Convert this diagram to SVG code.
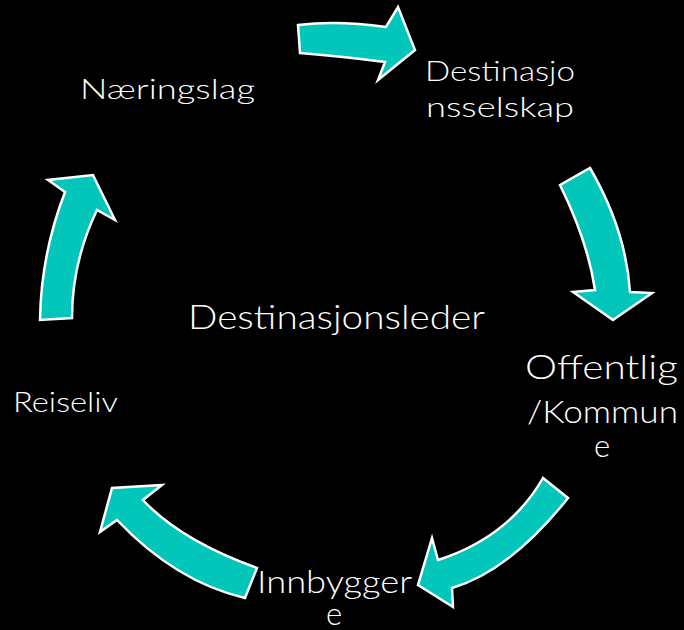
<svg xmlns="http://www.w3.org/2000/svg" width="684" height="630" viewBox="0 0 684 630">
<style>
.arr{fill:#02C6BA;stroke:#FFFFFF;stroke-width:2.5;stroke-linejoin:miter}
.t{fill:#FFFFFF;font-family:"Lato","DejaVu Sans","Liberation Sans",sans-serif;font-weight:300}
</style>
<rect width="684" height="630" fill="#000000"/>
<g id="connectors">
<path id="arrow-top" class="arr" d="M298,25 Q338,20 386,27 L398,7 L415,50 L378,80 L385,62 Q338,56 300,53 Z"/>
<path id="arrow-right" class="arr" d="M560,185 L590,168 Q626,230 630,292 L652,293 L613,320 L573,292 L595,290 Q588,242 560,185 Z"/>
<path id="arrow-bottomright" class="arr" d="M543,478 L568,498 Q510,571 452,588 L453,607 L418,585 L432,538 L438,560 Q509,537 543,478 Z"/>
<path id="arrow-bottomleft" class="arr" d="M257,568 Q180,540 143,500 L162,485 L112,488 L100,532 L117,520 Q176,582 245,598 Z"/>
<path id="arrow-left" class="arr" d="M40,320 Q41,254 65,192 L48,180 L93,175 L115,220 L97,210 Q72,262 72,318 Z"/>
</g>
<g id="node-naeringslag"><text class="t" x="80" y="99" font-size="28" textLength="175" lengthAdjust="spacingAndGlyphs">Næringslag</text></g>
<g id="node-destinasjonsselskap">
<text class="t" x="425" y="81" font-size="28" textLength="150" lengthAdjust="spacingAndGlyphs">Destinasjo</text>
<text class="t" x="426" y="117" font-size="28" textLength="148" lengthAdjust="spacingAndGlyphs">nsselskap</text>
</g>
<g id="node-destinasjonsleder"><text class="t" x="188" y="329" font-size="33" textLength="297" lengthAdjust="spacingAndGlyphs">Destinasjonsleder</text></g>
<g id="node-offentlig">
<text class="t" x="525" y="379" font-size="33" textLength="153" lengthAdjust="spacingAndGlyphs">Offentlig</text>
<text class="t" x="527" y="423" font-size="31" textLength="151" lengthAdjust="spacingAndGlyphs">/Kommun</text>
<text class="t" x="594" y="457" font-size="31">e</text>
</g>
<g id="node-reiseliv"><text class="t" x="13" y="412" font-size="28" textLength="105" lengthAdjust="spacingAndGlyphs">Reiseliv</text></g>
<g id="node-innbyggere">
<text class="t" x="257" y="593" font-size="31" textLength="155" lengthAdjust="spacingAndGlyphs">Innbygger</text>
<text class="t" x="326" y="625" font-size="31">e</text>
</g>
</svg>
